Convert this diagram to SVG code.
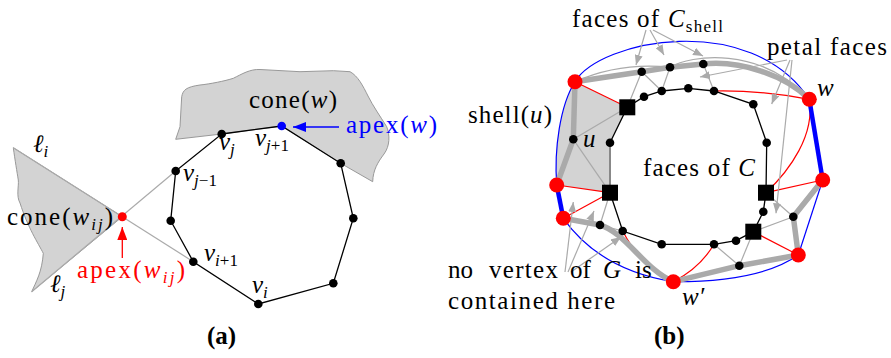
<svg xmlns="http://www.w3.org/2000/svg" width="891" height="358" viewBox="0 0 891 358" font-family="'Liberation Serif', 'Times New Roman', Times, 'DejaVu Serif', serif">
<defs>
<marker id="ag" viewBox="0 0 10 8" refX="10" refY="4" markerWidth="10" markerHeight="8" markerUnits="userSpaceOnUse" orient="auto"><path d="M0,0 L10,4 L0,8 Z" fill="#aaa"/></marker>
<marker id="ar" viewBox="0 0 13 10" refX="13" refY="5" markerWidth="13" markerHeight="10" markerUnits="userSpaceOnUse" orient="auto"><path d="M0,0 L13,5 L0,10 Z" fill="#f00"/></marker>
<marker id="ab" viewBox="0 0 13 10" refX="13" refY="5" markerWidth="13" markerHeight="10" markerUnits="userSpaceOnUse" orient="auto"><path d="M0,0 L13,5 L0,10 Z" fill="#00f"/></marker>
</defs>
<style>
text{font-family:'Liberation Serif','Times New Roman',Times,'DejaVu Serif',serif;font-size:25px;fill:#000}
.i{font-style:italic}
.n{font-style:normal}
.sub{font-size:17px}
.b{font-weight:bold}
.rt{fill:#f00}
.bt{fill:#00f}
.reg{fill:#d3d3d3;stroke:#999;stroke-width:1}
.thin{stroke:#aaa;stroke-width:1.2;fill:none}
.thick{stroke:#aaa;stroke-width:5.5;fill:none;stroke-linecap:round;stroke-linejoin:round}
.blk{stroke:#000;stroke-width:1.3;fill:none}
.red{stroke:#f00;stroke-width:1.2;fill:none}
.blu{stroke:#00f;stroke-width:1.2;fill:none}
.bluT{stroke:#00f;stroke-width:4.5;fill:none}
.arr{stroke:#aaa;stroke-width:1.2;fill:none;marker-end:url(#ag)}
.dot{fill:#000}
.rn{fill:#f00}
</style>

<!-- ===== Part (a) ===== -->
<g id="a-regions">
<path class="reg" d="M13.3,147.7 L122.3,216.7 L31.7,291.7 C36,282 42,272 43.3,253.3 C38,243 28,228 20,203 C16,196 19,186 18.3,180 C17,172 15,160 13.3,147.7 Z"/>
<path class="reg" d="M175.7,139.3 L180,126.7 L181.7,96.7 C183,90 186,87 200,85 C210,84 225,81 233.3,78.3 C242,74 250,69 260,69.5 L300,71.7 L333.3,70.7 L350,71.7 C358,76 363,86 368,96 C373,106 380,116 386.7,126.7 C390,135 390,146 384,154 C378,162 373,170 372.7,181.7 L340.7,163.3 L281.7,126 L221.7,134 Z"/>
</g>
<g id="a-connectors">
<line class="thin" x1="13.3" y1="147.7" x2="193.3" y2="261.7"/>
<line class="thin" x1="31.7" y1="291.7" x2="175.7" y2="171"/>
<path class="blk" d="M221.7,134 L281.7,126 L340.7,163.3 L353.3,218.3 L333.3,283.3 L258.3,304 L193.3,261.7 L170.7,220.7 L175.7,171 Z"/>
<line x1="122.3" y1="258" x2="122.3" y2="227" stroke="#f00" stroke-width="1.3" marker-end="url(#ar)"/>
<line x1="339" y1="127" x2="293" y2="127" stroke="#00f" stroke-width="1.3" marker-end="url(#ab)"/>
</g>
<g id="a-v-j"><circle cx="221.7" cy="134" r="4.3" class="dot"/></g>
<g id="a-v-j1"><circle cx="281.7" cy="126" r="4.3" fill="#00f"/></g>
<g id="a-n3"><circle cx="340.7" cy="163.3" r="4.3" class="dot"/></g>
<g id="a-n4"><circle cx="353.3" cy="218.3" r="4.3" class="dot"/></g>
<g id="a-n5"><circle cx="333.3" cy="283.3" r="4.3" class="dot"/></g>
<g id="a-v-i"><circle cx="258.3" cy="304" r="4.3" class="dot"/></g>
<g id="a-v-i1"><circle cx="193.3" cy="261.7" r="4.3" class="dot"/></g>
<g id="a-n8"><circle cx="170.7" cy="220.7" r="4.3" class="dot"/></g>
<g id="a-v-jm1"><circle cx="175.7" cy="171" r="4.3" class="dot"/></g>
<g id="a-apex-wij"><circle cx="122.3" cy="216.7" r="4.5" class="rn"/></g>

<g id="a-labels">
<text x="33" y="152" class="i">ℓ<tspan class="sub" dy="5">i</tspan></text>
<text x="50" y="292" class="i">ℓ<tspan class="sub" dy="5">j</tspan></text>
<text x="7" y="225" textLength="106">cone(<tspan class="i">w</tspan><tspan class="sub i" dy="5">ij</tspan><tspan dy="-5">)</tspan></text>
<text x="249" y="108" textLength="88">cone(<tspan class="i">w</tspan>)</text>
<text x="346" y="133" class="bt" textLength="91">apex(<tspan class="i">w</tspan>)</text>
<text x="77" y="278" class="rt" textLength="108">apex(<tspan class="i">w</tspan><tspan class="sub i" dy="5">ij</tspan><tspan dy="-5">)</tspan></text>
<text x="219" y="150" class="i">v<tspan class="sub" dy="5">j</tspan></text>
<text x="255" y="146" class="i">v<tspan class="sub" dy="5">j</tspan><tspan class="sub n">+1</tspan></text>
<text x="183" y="181" class="i">v<tspan class="sub" dy="5">j</tspan><tspan class="sub n">−1</tspan></text>
<text x="204" y="261" class="i">v<tspan class="sub" dy="5">i</tspan><tspan class="sub n">+1</tspan></text>
<text x="252" y="293" class="i">v<tspan class="sub" dy="5">i</tspan></text>
<text x="207" y="344" class="b">(a)</text>
</g>

<!-- ===== Part (b) ===== -->
<g id="b-shell-region">
<path d="M575,81.7 L627.3,107.3 L610,142.7 L610,192.7 L556.7,185 C554,150 560,105 575,81.7 Z" fill="#d3d3d3"/>
</g>
<g id="b-connectors">
<path class="thin" d="M575,81.7 Q620,62 670,67.3"/>
<path class="thin" d="M670,67.3 C690,55 760,45 809.3,99.3"/>
<line class="thin" x1="641.7" y1="71.7" x2="661.7" y2="91"/>
<line class="thin" x1="670" y1="67.3" x2="661.7" y2="91"/>
<line class="thin" x1="703.3" y1="64" x2="714" y2="91"/>
<line class="thin" x1="641.7" y1="71.7" x2="627.3" y2="107.3"/>
<line class="thin" x1="573.3" y1="139.3" x2="627.3" y2="107.3"/>
<line class="thin" x1="573.3" y1="139.3" x2="610" y2="192.7"/>
<line class="thin" x1="600" y1="225" x2="622.7" y2="231"/>
<line class="thin" x1="610" y1="192.7" x2="600" y2="225"/>
<line class="thin" x1="714" y1="244.3" x2="739.3" y2="265.7"/>
<line class="thin" x1="753.3" y1="231.7" x2="739.3" y2="265.7"/>
<line class="thin" x1="753.3" y1="231.7" x2="793.3" y2="216.7"/>
<line class="thin" x1="766" y1="192.7" x2="793.3" y2="216.7"/>
<line class="red" x1="575" y1="81.7" x2="627.3" y2="107.3"/>
<line class="red" x1="556.7" y1="185" x2="610" y2="192.7"/>
<line class="red" x1="563.3" y1="218.3" x2="610" y2="192.7"/>
<path class="red" d="M622.7,231 Q640,265 673.3,281.7"/>
<path class="red" d="M714,244.3 Q700,268 673.3,281.7"/>
<line class="red" x1="753.3" y1="231.7" x2="798.3" y2="255"/>
<line class="red" x1="766" y1="192.7" x2="822.7" y2="180"/>
<path class="red" d="M766,192.7 C790,170 815,135 809.3,99.3"/>
<path class="red" d="M714,91 Q760,90 809.3,99.3"/>
<path class="blu" d="M575,81.7 C600,40 750,10 809.3,99.3"/>
<path class="blu" d="M556.7,185 C554,150 560,105 575,81.7"/>
<path class="blu" d="M563.3,218.3 Q600,270 673.3,281.7"/>
<path class="blu" d="M673.3,281.7 Q760,282 798.3,255"/>
<line class="blu" x1="822.7" y1="180" x2="798.3" y2="255"/>
<path class="thick" d="M575,81.7 L641.7,71.7 L670,67.3 L703.3,64 C740,60 785,75 809.3,99.3"/>
<path class="thick" d="M575,81.7 L573.3,139.3 L556.7,185"/>
<path class="thick" d="M563.3,218.3 L600,225 C625,232 645,270 673.3,281.7"/>
<path class="thick" d="M673.3,281.7 L739.3,265.7 L798.3,255"/>
<path class="thick" d="M798.3,255 L793.3,216.7 L822.7,180"/>
<line class="bluT" x1="809.3" y1="99.3" x2="822.7" y2="180"/>
<line class="bluT" x1="556.7" y1="185" x2="563.3" y2="218.3"/>
<path class="blk" d="M610,142.7 L627.3,107.3 L644,96.7 L661.7,91 L688.3,88.3 L714,91 L753.3,104.3 L766.7,142.7 L766,192.7 L763.3,211.7 L753.3,231.7 L736,240.7 L714,244.3 L661.7,244.3 L622.7,231 L610,192.7"/>
<line x1="610" y1="142.7" x2="610" y2="192.7" stroke="#888" stroke-width="2"/>
<line class="arr" x1="646" y1="30" x2="636" y2="65"/>
<line class="arr" x1="650" y1="30" x2="664" y2="55"/>
<line class="arr" x1="653" y1="30" x2="703" y2="56"/>
<line class="arr" x1="787" y1="60" x2="700" y2="77"/>
<line class="arr" x1="790" y1="60" x2="771.7" y2="104"/>
<line class="arr" x1="792" y1="60" x2="776" y2="213.3"/>
<line class="arr" x1="565" y1="272" x2="573.3" y2="202"/>
<line class="arr" x1="568" y1="272" x2="594" y2="211"/>
<line class="arr" x1="571" y1="272" x2="621" y2="237"/>
</g>

<g id="b-outer-dot1"><circle cx="641.7" cy="71.7" r="4.3" class="dot"/></g>
<g id="b-outer-dot2"><circle cx="670" cy="67.3" r="4.3" class="dot"/></g>
<g id="b-outer-dot3"><circle cx="703.3" cy="64" r="4.3" class="dot"/></g>
<g id="b-u"><circle cx="573.3" cy="139.3" r="4.3" class="dot"/></g>
<g id="b-outer-dot5"><circle cx="600" cy="225" r="4.3" class="dot"/></g>
<g id="b-outer-dot6"><circle cx="739.3" cy="265.7" r="4.3" class="dot"/></g>
<g id="b-outer-dot7"><circle cx="793.3" cy="216.7" r="4.3" class="dot"/></g>
<g id="b-c1"><circle cx="644" cy="96.7" r="4.3" class="dot"/></g>
<g id="b-c2"><circle cx="661.7" cy="91" r="4.3" class="dot"/></g>
<g id="b-c3"><circle cx="688.3" cy="88.3" r="4.3" class="dot"/></g>
<g id="b-c4"><circle cx="714" cy="91" r="4.3" class="dot"/></g>
<g id="b-c5"><circle cx="753.3" cy="104.3" r="4.3" class="dot"/></g>
<g id="b-c6"><circle cx="766.7" cy="142.7" r="4.3" class="dot"/></g>
<g id="b-c7"><circle cx="763.3" cy="211.7" r="4.3" class="dot"/></g>
<g id="b-c8"><circle cx="736" cy="240.7" r="4.3" class="dot"/></g>
<g id="b-c9"><circle cx="714" cy="244.3" r="4.3" class="dot"/></g>
<g id="b-c10"><circle cx="661.7" cy="244.3" r="4.3" class="dot"/></g>
<g id="b-c11"><circle cx="622.7" cy="231" r="4.3" class="dot"/></g>
<g id="b-c12"><circle cx="610" cy="142.7" r="4.3" class="dot"/></g>
<g id="b-sq1"><rect x="619.3" y="99.3" width="16" height="16" class="dot"/></g>
<g id="b-sq2"><rect x="602" y="184.7" width="16" height="16" class="dot"/></g>
<g id="b-sq3"><rect x="758" y="184.7" width="16" height="16" class="dot"/></g>
<g id="b-sq4"><rect x="745.3" y="223.7" width="16" height="16" class="dot"/></g>
<g id="b-r-topleft"><circle cx="575" cy="81.7" r="7.5" class="rn"/></g>
<g id="b-r-w"><circle cx="809.3" cy="99.3" r="7.5" class="rn"/></g>
<g id="b-r-right"><circle cx="822.7" cy="180" r="7.5" class="rn"/></g>
<g id="b-r-botright"><circle cx="798.3" cy="255" r="7.5" class="rn"/></g>
<g id="b-r-wprime"><circle cx="673.3" cy="281.7" r="7.5" class="rn"/></g>
<g id="b-r-leftlow"><circle cx="563.3" cy="218.3" r="7.5" class="rn"/></g>
<g id="b-r-left"><circle cx="556.7" cy="185" r="7.5" class="rn"/></g>

<g id="b-labels">
<text x="572" y="27" textLength="151">faces of <tspan class="i">C</tspan><tspan class="sub" dy="5">shell</tspan></text>
<text x="767" y="55" textLength="120">petal faces</text>
<text x="468" y="123" textLength="84">shell(<tspan class="i">u</tspan>)</text>
<text x="583" y="147" class="i">u</text>
<text x="643" y="176" textLength="112">faces of <tspan class="i">C</tspan></text>
<text x="817" y="96" class="i">w</text>
<text x="682" y="305" class="i">w′</text>
<text x="448" y="278">no</text>
<text x="489" y="278" textLength="69">vertex</text>
<text x="570" y="278">of</text>
<text x="603" y="278" class="i">G</text>
<text x="635" y="278">is</text>
<text x="448" y="309" textLength="167">contained here</text>
<text x="654" y="344" class="b">(b)</text>
</g>
</svg>
